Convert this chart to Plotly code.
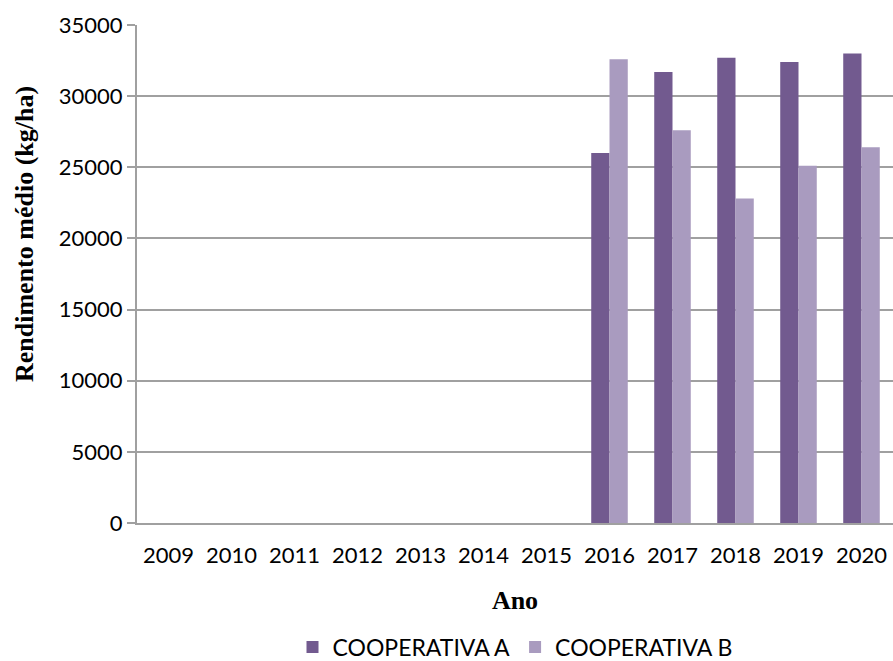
import plotly.graph_objects as go

anos = ["2009", "2010", "2011", "2012", "2013", "2014", "2015", "2016", "2017", "2018", "2019", "2020"]
coop_a = [None, None, None, None, None, None, None, 26000, 31700, 32700, 32400, 33000]
coop_b = [None, None, None, None, None, None, None, 32600, 27600, 22800, 25100, 26400]
y_ticks = [0, 5000, 10000, 15000, 20000, 25000, 30000, 35000]

tick_font = dict(family="Lato, 'Open Sans', sans-serif", size=22, color="#000000")
legend_font = dict(family="Lato, 'Open Sans', sans-serif", size=23, color="#000000")
title_font = dict(family="'Liberation Serif', 'Times New Roman', serif", size=26, color="#000000")

fig = go.Figure()
fig.add_trace(go.Bar(name="COOPERATIVA A", x=anos, y=coop_a, marker=dict(color="#725A8F", line=dict(width=0))))
fig.add_trace(go.Bar(name="COOPERATIVA B", x=anos, y=coop_b, marker=dict(color="#A99BBF", line=dict(width=0))))

fig.update_layout(
    width=893, height=661,
    margin=dict(l=137, r=0, t=25, b=138, autoexpand=False),
    paper_bgcolor="white", plot_bgcolor="white",
    barmode="group", bargap=0.42, bargroupgap=0,
    showlegend=True,
    legend=dict(orientation="h", x=0.5, xanchor="center", y=-0.249, yanchor="middle",
                font=legend_font, itemwidth=30, traceorder="normal", borderwidth=0),
    xaxis=dict(
        type="category", tickfont=tick_font, automargin=False,
        showline=True, linecolor="#A0A0A0", linewidth=2,
        showgrid=False, ticks="", ticklabelstandoff=12,
        title=dict(text="<b>Ano</b>", font=title_font, standoff=23),
    ),
    yaxis=dict(
        range=[0, 35000], tickvals=y_ticks, ticktext=[str(v) for v in y_ticks],
        tickfont=tick_font, automargin=False,
        showline=True, linecolor="#A0A0A0", linewidth=2,
        showgrid=True, gridcolor="#A0A0A0", gridwidth=2,
        ticks="outside", ticklen=8, tickcolor="#A0A0A0", tickwidth=2,
        zeroline=False,
    ),
    annotations=[dict(
        text="<b>Rendimento médio (kg/ha)</b>", font=title_font,
        textangle=-90, showarrow=False,
        xref="paper", yref="paper",
        x=-(137 - 24) / 756, y=(523 - 234) / 498,
        xanchor="center", yanchor="middle",
    )],
)

fig.write_html("out.html")
